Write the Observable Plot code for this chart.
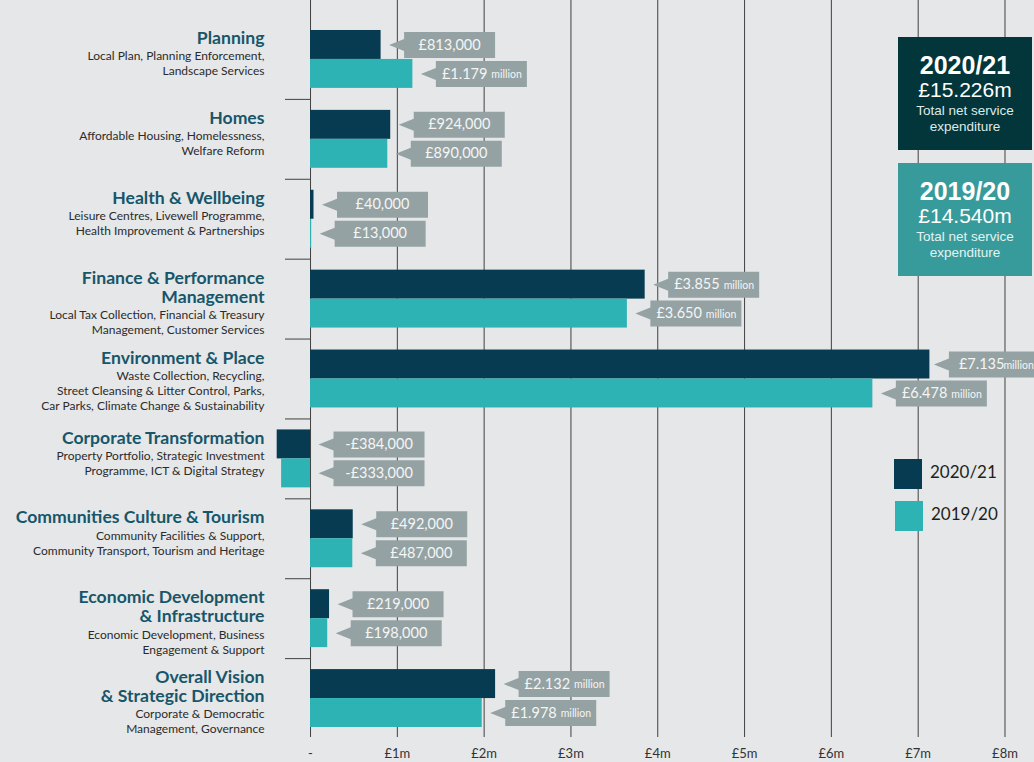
<!DOCTYPE html>
<html><head><meta charset="utf-8">
<script src="https://cdn.jsdelivr.net/npm/d3@7"></script>
<script src="https://cdn.jsdelivr.net/npm/@observablehq/plot@0.6"></script>
<style>
body{margin:0;background:#e6e7e8;}
#wrap{position:relative;width:1034px;height:762px;overflow:hidden;background:#e6e7e8;}
#wrap svg{display:block;}
.box{position:absolute;left:898px;width:134px;text-align:center;font-family:"Liberation Sans",Arial,sans-serif;box-sizing:border-box;padding-top:15px;}
.box .l1{font-size:25px;font-weight:bold;line-height:26px;color:#fff;}
.box .l2{font-size:21px;line-height:24px;color:#fff;}
.box .l3{font-size:13.5px;line-height:17px;}
.box .l4{font-size:13.5px;line-height:16px;}
.leg{position:absolute;left:894px;font-family:Lato,sans-serif;font-size:17px;color:#231f20;}
.leg span{display:inline-block;width:28px;height:30px;vertical-align:middle;margin-right:8px;}
</style></head><body><div id="wrap"></div>
<script>
const categories = ["Planning","Homes","Health & Wellbeing","Finance & Performance Management","Environment & Place","Corporate Transformation","Communities Culture & Tourism","Economic Development & Infrastructure","Overall Vision & Strategic Direction"];
const titleLines = [["Planning"],["Homes"],["Health & Wellbeing"],["Finance & Performance","Management"],["Environment & Place"],["Corporate Transformation"],["Communities Culture & Tourism"],["Economic Development","& Infrastructure"],["Overall Vision","& Strategic Direction"]];
const subtitleLines = [
  ["Local Plan, Planning Enforcement,","Landscape Services"],
  ["Affordable Housing, Homelessness,","Welfare Reform"],
  ["Leisure Centres, Livewell Programme,","Health Improvement & Partnerships"],
  ["Local Tax Collection, Financial & Treasury","Management, Customer Services"],
  ["Waste Collection, Recycling,","Street Cleansing & Litter Control, Parks,","Car Parks, Climate Change & Sustainability"],
  ["Property Portfolio, Strategic Investment","Programme, ICT & Digital Strategy"],
  ["Community Facilities & Support,","Community Transport, Tourism and Heritage"],
  ["Economic Development, Business","Engagement & Support"],
  ["Corporate & Democratic","Management, Governance"]
];
const years = ["2020/21","2019/20"];
const values2021 = [0.813, 0.924, 0.040, 3.855, 7.135, -0.384, 0.492, 0.219, 2.132];
const values1920 = [1.179, 0.890, 0.013, 3.650, 6.478, -0.333, 0.487, 0.198, 1.978];
const labels2021 = ["£813,000","£924,000","£40,000","£3.855","£7.135","-£384,000","£492,000","£219,000","£2.132"];
const units2021  = ["","","","million","million","","","","million"];
const labels1920 = ["£1.179","£890,000","£13,000","£3.650","£6.478","-£333,000","£487,000","£198,000","£1.978"];
const units1920  = ["million","","","million","million","","","","million"];
const xTicks = [0,1,2,3,4,5,6,7,8];
const xTickLabels = ["-","£1m","£2m","£3m","£4m","£5m","£6m","£7m","£8m"];
const totalYears = ["2020/21","2019/20"];
const totalValues = ["£15.226m","£14.540m"];
const totalNote = ["Total net service","expenditure"];

const barColors = ["#063b51","#2db3b4"];
const boxColors = ["#02363a","#389b9b"];
const noteColors = ["#dfe9e8","#e3f3f2"];
const calloutFill = "#94a2a3";
const gridColor = "#404040";

const yRange = [19, 738], pIn = 0.275;
const step = (yRange[1]-yRange[0]) / categories.length;
const half = step * (1 - pIn) / 2;
const xDomain = [-0.415, 8.34];

const valueSets = [values2021, values1920], labelSets = [labels2021, labels1920], unitSets = [units2021, units1920];
const rows = years.map((yr, j) => categories.map((c, i) => ({category: c, year: yr, value: valueSets[j][i], label: labelSets[j][i], unit: unitSets[j][i]})));

// callout shape: arrow tip at origin, box to the right
const calloutSymbol = {draw(ctx) {
  ctx.moveTo(0, 0); ctx.lineTo(15, -6); ctx.lineTo(15, -13); ctx.lineTo(106, -13);
  ctx.lineTo(106, 13); ctx.lineTo(15, 13); ctx.lineTo(15, 6); ctx.closePath();
}};
// callouts next to bars that reach the right edge are set tighter
const tight = d => d.value > 7;

// category label lines
const labelRows = [];
categories.forEach((c, i) => {
  titleLines[i].forEach((t, k) => labelRows.push({category: c, text: t, kind: "title", off: -21 + 19 * k}));
  const last = -21 + 19 * (titleLines[i].length - 1);
  subtitleLines[i].forEach((t, k) => labelRows.push({category: c, text: t, kind: "sub", off: last + 18 + 15 * k}));
});
const labelMarks = d3.groups(labelRows, d => d.kind + "|" + d.off).map(([key, data]) => {
  const title = data[0].kind === "title";
  return Plot.text(data, {
    y: "category", text: "text", frameAnchor: "left", textAnchor: "end", dx: -10, dy: data[0].off,
    fontSize: title ? 17.6 : 12, fontWeight: title ? "bold" : "normal",
    fill: title ? "#17566a" : "#2b2b2b", fontFamily: "Lato"
  });
});

const txt = {fill: "#f5f5f5", fontFamily: "Lato"};
const yearMarks = rows.flatMap((data, j) => {
  const sign = j === 0 ? -1 : 1;
  const dy = sign * half / 2;
  const xv = d => Math.max(0, d.value);
  const normal = data.filter(d => !tight(d)), tightRows = data.filter(tight);
  return [
    Plot.barX(data, {y: "category", x: "value", fill: barColors[j], insetTop: j === 0 ? 0 : half, insetBottom: j === 0 ? half : 0}),
    Plot.dot(normal, {x: xv, y: "category", dx: 8, dy, symbol: calloutSymbol, r: 5, fill: calloutFill, stroke: "none"}),
    Plot.text(normal.filter(d => !d.unit), {x: xv, y: "category", text: "label", dx: 68.5, dy, textAnchor: "middle", fontSize: 14.5, ...txt}),
    Plot.text(normal.filter(d => d.unit), {x: xv, y: "category", text: "label", dx: 74.5, dy, textAnchor: "end", fontSize: 14.5, ...txt}),
    Plot.text(normal.filter(d => d.unit), {x: xv, y: "category", text: "unit", dx: 78.5, dy: dy + 1, textAnchor: "start", fontSize: 10.5, ...txt}),
    Plot.dot(tightRows, {x: xv, y: "category", dx: 4, dy, symbol: calloutSymbol, r: 5, fill: calloutFill, stroke: "none"}),
    Plot.text(tightRows, {x: xv, y: "category", text: "label", dx: 29, dy, textAnchor: "start", fontSize: 14.5, ...txt}),
    Plot.text(tightRows, {x: xv, y: "category", text: "unit", dx: 104, dy: dy + 1, textAnchor: "end", fontSize: 10.5, ...txt})
  ];
});

const chart = Plot.plot({
  width: 1034, height: 762,
  marginTop: 0, marginBottom: 25, marginLeft: 274, marginRight: 0,
  style: {background: "#e6e7e8", fontFamily: "Lato", fontSize: "13px", color: "#333", overflow: "visible"},
  x: {domain: xDomain, ticks: xTicks, tickFormat: d => xTickLabels[xTicks.indexOf(d)], tickSize: 0, tickPadding: 11, label: null},
  y: {domain: categories, range: yRange, paddingInner: pIn, paddingOuter: pIn / 2, round: false, axis: null},
  marks: [
    Plot.ruleX(xTicks, {x: d => d, stroke: gridColor, strokeWidth: 1}),
    Plot.ruleY(categories.slice(1), {y: d => d, x1: () => xDomain[0], x2: () => 0, insetLeft: 11, dy: -step / 2, stroke: gridColor}),
    ...yearMarks,
    ...labelMarks
  ]
});
const wrap = document.getElementById("wrap");
wrap.appendChild(chart);

// summary boxes
const boxTops = [37, 163];
totalYears.forEach((yr, j) => {
  const b = document.createElement("div");
  b.className = "box";
  b.style.top = boxTops[j] + "px";
  b.style.height = "113px";
  b.style.background = boxColors[j];
  b.innerHTML = `<div class="l1">${yr}</div><div class="l2">${totalValues[j]}</div>` +
    totalNote.map((t, k) => `<div class="l${k + 3}" style="color:${noteColors[j]}">${t}</div>`).join("");
  wrap.appendChild(b);
});
// legend
const legTops = [459, 501];
years.forEach((yr, j) => {
  const l = document.createElement("div");
  l.className = "leg";
  l.style.top = legTops[j] + "px";
  l.style.left = (894 + j) + "px";
  l.innerHTML = `<span style="background:${barColors[j]}"></span>${yr}`;
  wrap.appendChild(l);
});
</script>
</body></html>
